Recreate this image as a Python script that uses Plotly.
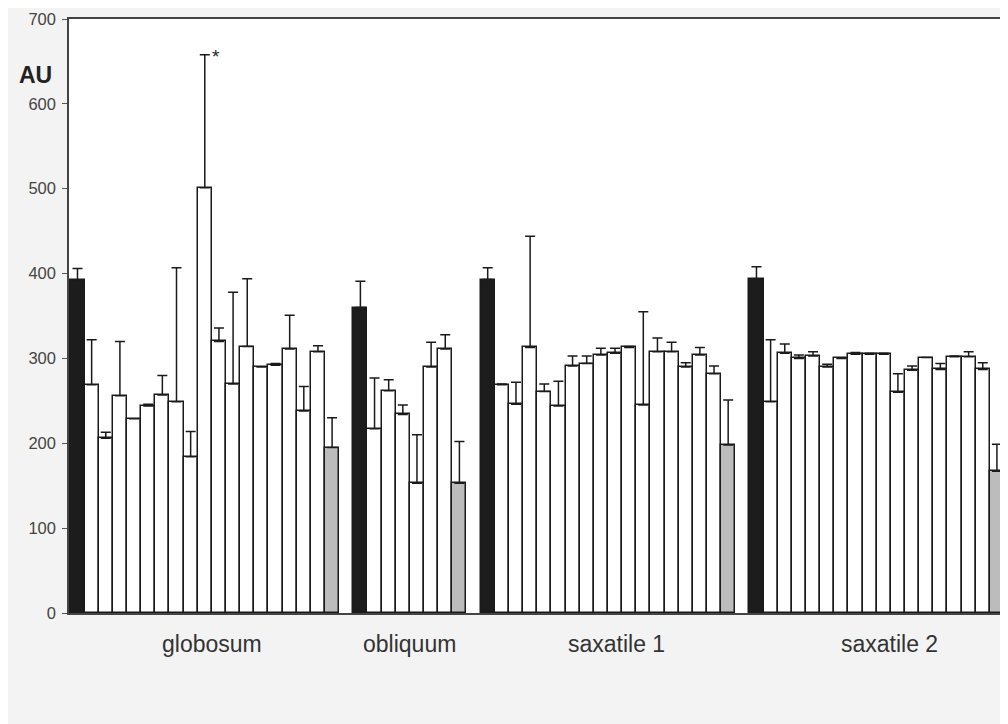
import plotly.graph_objects as go

# ---- data ----
group_names = ["globosum", "obliquum", "saxatile 1", "saxatile 2"]
label_pos = [9.5, 23.45, 38.1, 57.4]

globosum_mean = [392, 269, 206, 256, 229, 244, 257, 249, 184, 501, 320, 270, 314, 290, 292, 311, 238, 308, 195]
globosum_err = [14, 53, 7, 64, 0, 2, 23, 158, 30, 157, 16, 108, 80, 0, 2, 40, 29, 7, 35]

obliquum_mean = [360, 217, 262, 234, 153, 290, 311, 153]
obliquum_err = [31, 60, 13, 11, 57, 29, 17, 49]

saxatile1_mean = [393, 269, 246, 313, 261, 244, 291, 294, 304, 306, 313, 245, 308, 308, 290, 304, 282, 198]
saxatile1_err = [14, 1, 26, 131, 9, 29, 12, 9, 8, 6, 1, 110, 16, 11, 5, 9, 9, 53]

saxatile2_mean = [394, 249, 306, 300, 303, 290, 300, 305, 305, 305, 260, 286, 301, 287, 302, 302, 287, 167]
saxatile2_err = [14, 73, 11, 4, 5, 3, 0, 2, 1, 1, 22, 5, 0, 7, 1, 6, 8, 32]

y_ticks = [0, 100, 200, 300, 400, 500, 600, 700]

groups = [
    (globosum_mean, globosum_err),
    (obliquum_mean, obliquum_err),
    (saxatile1_mean, saxatile1_err),
    (saxatile2_mean, saxatile2_err),
]

BLACK = "#1c1c1c"
GREY = "#bcbcbc"
WHITE = "#ffffff"

fig = go.Figure()
start = 0
for means, errs in groups:
    n = len(means)
    xs = list(range(start, start + n))
    colors = [BLACK] + [WHITE] * (n - 2) + [GREY]
    fig.add_trace(go.Bar(
        x=xs, y=means, width=1,
        marker=dict(color=colors, line=dict(color="#1a1a1a", width=1.5)),
        error_y=dict(type="data", array=errs, arrayminus=[0] * n, symmetric=False,
                     color="#1a1a1a", thickness=1.5, width=5),
        showlegend=False,
    ))
    start += n + 1

FONT = "Liberation Sans, Arial"
annotations = []
for name, xp in zip(group_names, label_pos):
    annotations.append(dict(x=xp, y=0, xref="x", yref="paper", text=name,
                            showarrow=False, yanchor="top", yshift=-16,
                            font=dict(family=FONT, size=23, color="#333333")))
annotations.append(dict(x=9, y=656, xref="x", yref="y", text="*", showarrow=False,
                        xshift=11, font=dict(family=FONT, size=19, color="#222222")))
annotations.append(dict(x=-0.0358, y=0.905, xref="paper", yref="paper", text="<b>AU</b>",
                        showarrow=False, xanchor="center", yanchor="middle",
                        font=dict(family=FONT, size=23, color="#222222")))

fig.update_layout(
    width=1000, height=716,
    margin=dict(l=61, r=2, t=8, b=111),
    paper_bgcolor="#f3f3f3", plot_bgcolor="#ffffff",
    bargap=0,
    annotations=annotations,
    xaxis=dict(range=[-0.6, 65.5], showticklabels=False, ticks="", showgrid=False,
               zeroline=False, showline=True, linecolor="#444444", linewidth=1.5, mirror=True),
    yaxis=dict(range=[0, 700], tickvals=y_ticks, ticks="outside", ticklen=5, tickcolor="#555555",
               showgrid=False, zeroline=False, showline=True, linecolor="#444444", linewidth=1.5,
               mirror=True, ticklabeloverflow="allow", ticklabelstandoff=3,
               tickfont=dict(family=FONT, size=16.5, color="#444444")),
)

fig.write_html("out.html", default_width="1000px", default_height="716px",
               post_script="document.body.style.overflow='hidden';")
